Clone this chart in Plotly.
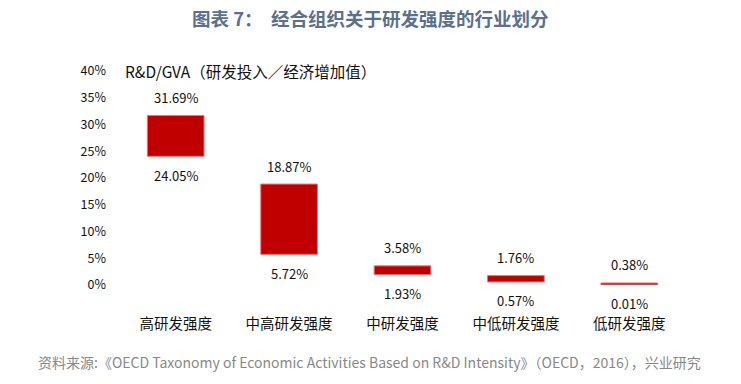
import plotly.graph_objects as go

categories = ["高研发强度", "中高研发强度", "中研发强度", "中低研发强度", "低研发强度"]
high_values = [31.69, 18.87, 3.58, 1.76, 0.38]
low_values = [24.05, 5.72, 1.93, 0.57, 0.01]
y_ticks = [0, 5, 10, 15, 20, 25, 30, 35, 40]
y_tick_labels = [f"{v}%" for v in y_ticks]

FONT = "Noto Sans CJK SC"
W, H = 741, 384
L, R, T, B = 119, 55, 71, 99
pw, ph = W - L - R, H - T - B


def px(x):
    return (x - L) / pw


def py(y):
    return (H - y - B) / ph


fig = go.Figure()
fig.add_trace(go.Bar(
    x=categories,
    y=[h - l for h, l in zip(high_values, low_values)],
    base=low_values,
    width=0.5,
    marker=dict(color="#C00000", line=dict(color="#E87878", width=1)),
    hoverinfo="skip",
))

annotations = []
for c, h, l in zip(categories, high_values, low_values):
    annotations.append(dict(x=c, y=h, xref="x", yref="y", text=f"{h:.2f}%", showarrow=False,
                            yshift=18, font=dict(family=FONT, size=13, color="#111")))
    annotations.append(dict(x=c, y=l, xref="x", yref="y", text=f"{l:.2f}%", showarrow=False,
                            yshift=-19, font=dict(family=FONT, size=13, color="#111")))

annotations.append(dict(x=px(123), y=py(71), xref="paper", yref="paper",
                        text="R&D/GVA（研发投入／经济增加值）",
                        showarrow=False, xanchor="left", yanchor="middle",
                        font=dict(family=FONT, size=15.5, color="#111")))
annotations.append(dict(x=px(370), y=py(18), xref="paper", yref="paper",
                        text="<b>图表 7：  经合组织关于研发强度的行业划分</b>",
                        showarrow=False, xanchor="center", yanchor="middle",
                        font=dict(family=FONT, size=18.5, color="#5c708e")))
annotations.append(dict(x=px(369), y=py(362), xref="paper", yref="paper",
                        text="资料来源:《OECD Taxonomy of Economic Activities Based on R&D Intensity》（OECD，2016），兴业研究",
                        showarrow=False, xanchor="center", yanchor="middle",
                        font=dict(family=FONT, size=14, color="#888888")))

fig.update_layout(
    width=W, height=H,
    margin=dict(l=L, r=R, t=T, b=B),
    plot_bgcolor="white", paper_bgcolor="white",
    showlegend=False,
    annotations=annotations,
    font=dict(family=FONT, size=13, color="#111"),
    xaxis=dict(showline=False, showgrid=False, zeroline=False, ticks="",
               ticklabelstandoff=28, tickfont=dict(family=FONT, size=14.5, color="#111")),
    yaxis=dict(range=[0, 40], tickvals=y_ticks, ticktext=y_tick_labels, showgrid=False,
               zeroline=False, showline=False, ticks="", ticklabelstandoff=12,
               tickfont=dict(family=FONT, size=12.5, color="#111")),
)
fig.write_html("out.html", config={"displayModeBar": False},
               post_script="document.body.style.margin='0';")
